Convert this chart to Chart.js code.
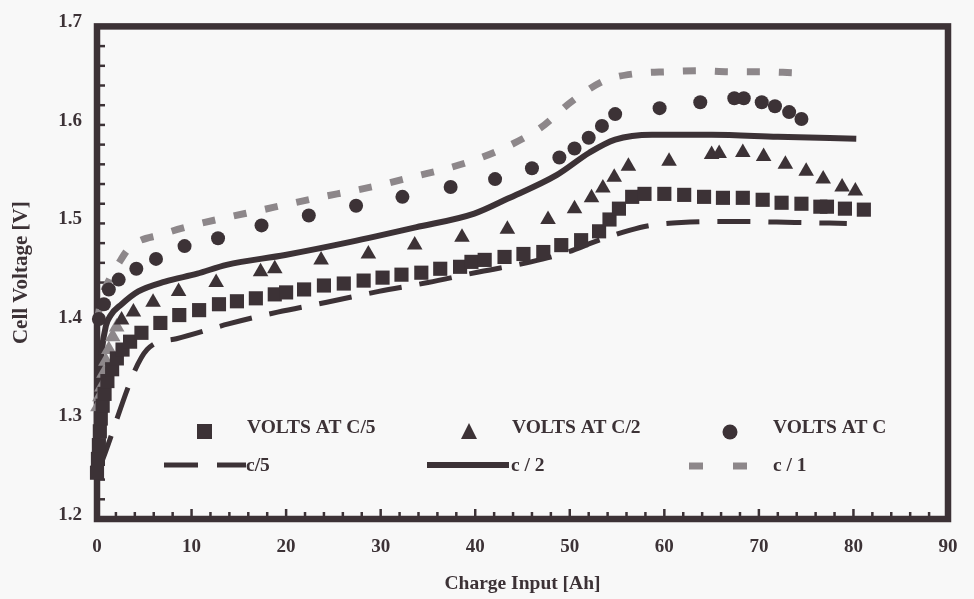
<!DOCTYPE html>
<html>
<head>
<meta charset="utf-8">
<script src="https://cdn.jsdelivr.net/npm/chart.js@4.4.1/dist/chart.umd.min.js"></script>
<style>
html,body{margin:0;padding:0;background:#f8f8f8;}
#wrap{width:974px;height:599px;position:relative;}
</style>
</head>
<body>
<div id="wrap"><canvas id="c"></canvas></div>
<script>
// ---- tick labels ----
const xTickValues = [0, 10, 20, 30, 40, 50, 60, 70, 80, 90];
const yTickValues = [1.2, 1.3, 1.4, 1.5, 1.6, 1.7];

// ---- measured points: VOLTS AT C/5 (squares) ----
const c5PointsAh = [0.0,0.1,0.2,0.3,0.4,0.6,0.8,1.1,1.6,2.1,2.7,3.5,4.7,6.7,8.7,10.8,12.9,14.8,16.8,18.8,20.0,21.9,24.0,26.1,28.2,30.2,32.2,34.3,36.3,38.4,39.6,41.0,43.1,45.1,47.2,49.1,51.2,53.1,54.2,55.2,56.6,57.9,60.0,62.1,64.2,66.2,68.3,70.4,72.4,74.5,76.5,77.2,79.1,81.1];
const c5PointsV  = [1.247,1.261,1.275,1.289,1.302,1.315,1.327,1.340,1.352,1.363,1.372,1.380,1.389,1.399,1.407,1.412,1.418,1.421,1.424,1.428,1.430,1.433,1.437,1.439,1.442,1.445,1.448,1.450,1.454,1.456,1.461,1.463,1.466,1.469,1.471,1.478,1.483,1.492,1.504,1.515,1.527,1.530,1.530,1.529,1.527,1.526,1.526,1.524,1.521,1.520,1.517,1.517,1.515,1.514];

// ---- measured points: VOLTS AT C/2 (triangles) ----
const c2PointsAh = [0.1,0.31,0.52,0.73,0.94,1.25,1.66,2.08,2.6,3.85,5.93,8.63,12.6,17.3,18.8,23.7,28.7,33.6,38.6,43.4,47.7,50.5,52.3,53.5,54.7,56.2,60.5,65.0,65.8,68.3,70.5,72.8,75.0,76.8,78.8,80.2];
const c2PointsV  = [1.314,1.324,1.334,1.348,1.360,1.372,1.385,1.395,1.402,1.410,1.420,1.431,1.440,1.451,1.454,1.463,1.469,1.478,1.486,1.494,1.504,1.515,1.526,1.536,1.547,1.558,1.563,1.570,1.571,1.572,1.568,1.560,1.553,1.545,1.537,1.533];

// ---- measured points: VOLTS AT C (circles) ----
const c1PointsAh = [0.2,0.73,1.25,2.29,4.16,6.24,9.26,12.8,17.4,22.4,27.4,32.3,37.4,42.1,46.0,48.9,50.5,52.0,53.4,54.8,59.5,63.8,67.4,68.4,70.3,71.7,73.2,74.5];
const c1PointsV  = [1.403,1.418,1.433,1.443,1.454,1.464,1.477,1.485,1.498,1.508,1.518,1.527,1.537,1.545,1.556,1.567,1.576,1.587,1.599,1.611,1.617,1.623,1.627,1.627,1.623,1.619,1.613,1.606];

// ---- curves: c/5, c/2, c/1 ----
const c5CurveAh = [0.3,5.3,8.4,13.9,19.1,24.3,29.8,35.0,40.5,45.9,49.5,53.1,56.3,58.5,61.8,67.2,73.8,79.3];
const c5CurveV  = [1.253,1.372,1.383,1.398,1.410,1.420,1.431,1.440,1.451,1.461,1.470,1.483,1.493,1.498,1.501,1.502,1.501,1.500];

const c2CurveAh = [0.2,0.5,0.94,1.46,2.6,4.37,7.2,10.6,13.7,19.9,26.7,33.7,39.9,43.4,48.6,52.1,54.8,58.7,65.0,72.0,80.3];
const c2CurveV  = [1.330,1.370,1.396,1.407,1.418,1.431,1.441,1.449,1.458,1.468,1.481,1.496,1.510,1.525,1.549,1.572,1.585,1.590,1.590,1.588,1.586];

const c1CurveAh = [0.0,0.5,1.3,2.2,3.5,6.9,10.1,13.7,17.1,20.4,23.8,27.0,30.4,33.7,37.1,40.4,43.6,46.9,50.1,53.7,56.9,60.4,63.7,67.0,70.3,73.6];
const c1CurveV  = [1.400,1.425,1.443,1.458,1.476,1.489,1.498,1.506,1.513,1.520,1.527,1.533,1.540,1.548,1.556,1.566,1.579,1.597,1.623,1.645,1.652,1.654,1.655,1.654,1.654,1.653];

const legendLabels = ['VOLTS AT C/5', 'VOLTS AT C/2', 'VOLTS AT C', 'c/5', 'c / 2', 'c / 1'];

const INK = '#3c3236';
const GREY = '#8d878a';
const SERIF = '"Liberation Serif", "Times New Roman", "DejaVu Serif", serif';

function pts(xs, ys) { return xs.map((x, i) => ({ x: x, y: ys[i] })); }

const framePlugin = {
  id: 'frame',
  beforeDatasetsDraw(chart) {
    const { ctx, chartArea: a, scales } = chart;
    const xs = scales.x, ys = scales.y;
    ctx.save();
    ctx.strokeStyle = INK;
    ctx.lineWidth = 6.5;
    ctx.strokeRect(a.left, a.top, a.right - a.left, a.bottom - a.top);
    ctx.lineWidth = 2.5;
    // inward ticks on the bottom axis
    for (let v = 2; v < 90; v += 2) {
      const px = xs.getPixelForValue(v);
      const len = (v % 10 === 0) ? 7 : 4;
      ctx.beginPath();
      ctx.moveTo(px, a.bottom - 3);
      ctx.lineTo(px, a.bottom - 3 - len);
      ctx.stroke();
    }
    // inward ticks on the left axis
    for (let k = 1; k < 25; k++) {
      const py = ys.getPixelForValue(1.2 + k * 0.02);
      ctx.beginPath();
      ctx.moveTo(a.left + 3, py);
      ctx.lineTo(a.left + 8, py);
      ctx.stroke();
    }
    ctx.restore();
  }
};

const legendPlugin = {
  id: 'insideLegend',
  afterDraw(chart) {
    const { ctx } = chart;
    ctx.save();
    ctx.fillStyle = INK;
    ctx.font = 'bold 19.5px ' + SERIF;
    ctx.textBaseline = 'middle';
    ctx.textAlign = 'left';
    // row 1 markers
    ctx.fillRect(197, 424, 15, 15);
    ctx.beginPath();
    ctx.moveTo(469, 423); ctx.lineTo(477, 439); ctx.lineTo(461, 439); ctx.closePath(); ctx.fill();
    ctx.beginPath(); ctx.arc(730, 432, 7.5, 0, Math.PI * 2); ctx.fill();
    ctx.fillText(legendLabels[0], 247, 428);
    ctx.fillText(legendLabels[1], 512, 428);
    ctx.fillText(legendLabels[2], 773, 428);
    // row 2 line samples
    ctx.strokeStyle = INK;
    ctx.lineWidth = 5;
    ctx.beginPath(); ctx.moveTo(164, 465); ctx.lineTo(198, 465); ctx.moveTo(217, 465); ctx.lineTo(246, 465); ctx.stroke();
    ctx.lineWidth = 6;
    ctx.beginPath(); ctx.moveTo(427, 465); ctx.lineTo(509, 465); ctx.stroke();
    ctx.strokeStyle = GREY;
    ctx.lineWidth = 7;
    ctx.beginPath(); ctx.moveTo(689, 466); ctx.lineTo(703, 466); ctx.moveTo(733, 466); ctx.lineTo(747, 466); ctx.stroke();
    ctx.fillText(legendLabels[3], 246, 466);
    ctx.fillText(legendLabels[4], 511, 466);
    ctx.fillText(legendLabels[5], 773, 466);
    ctx.restore();
  }
};

const ctx = document.getElementById('c').getContext('2d');
new Chart(ctx, {
  type: 'line',
  data: {
    datasets: [
      { label: 'VOLTS AT C/5', data: pts(c5PointsAh, c5PointsV), showLine: false,
        pointStyle: 'rect', pointRadius: 10, pointBackgroundColor: INK, pointBorderWidth: 0, clip: false },
      { label: 'VOLTS AT C/2', data: pts(c2PointsAh, c2PointsV), showLine: false,
        pointStyle: 'triangle', pointRadius: 9, pointBorderWidth: 0, clip: false,
        pointBackgroundColor: c => (c.raw && c.raw.x < 2.1) ? GREY : INK },
      { label: 'VOLTS AT C', data: pts(c1PointsAh, c1PointsV), showLine: false,
        pointStyle: 'circle', pointRadius: 7, pointBackgroundColor: INK, pointBorderWidth: 0, clip: false },
      { label: 'c/5', data: pts(c5CurveAh, c5CurveV), borderColor: INK, borderWidth: 5,
        borderDash: [33, 18], borderCapStyle: 'butt', pointRadius: 0, cubicInterpolationMode: 'monotone', fill: false, clip: false },
      { label: 'c / 2', data: pts(c2CurveAh, c2CurveV), borderColor: INK, borderWidth: 6,
        pointRadius: 0, cubicInterpolationMode: 'monotone', fill: false, clip: false },
      { label: 'c / 1', data: pts(c1CurveAh, c1CurveV), borderColor: GREY, borderWidth: 7,
        borderDash: [13, 19], borderCapStyle: 'butt', pointRadius: 0, cubicInterpolationMode: 'monotone', fill: false, clip: false }
    ]
  },
  options: {
    responsive: true,
    maintainAspectRatio: false,
    animation: false,
    events: [],
    layout: { padding: { top: 24, right: 12.5, left: 0, bottom: 0 } },
    plugins: { legend: { display: false }, tooltip: { enabled: false } },
    scales: {
      x: {
        type: 'linear', min: 0, max: 90,
        afterBuildTicks(s) { s.ticks = xTickValues.map(v => ({ value: v })); },
        afterFit(s) { s.height = 80; },
        grid: { display: false, drawTicks: false },
        border: { display: false },
        ticks: { color: INK, padding: 16.5, maxRotation: 0, autoSkip: false,
                 font: { family: SERIF, size: 19, weight: 'bold' },
                 callback: v => String(v) },
        title: { display: true, text: 'Charge Input [Ah]', color: INK,
                 font: { family: SERIF, size: 19.5, weight: 'bold' },
                 padding: { top: 0, bottom: 3.3 } }
      },
      y: {
        type: 'linear', min: 1.2, max: 1.7,
        afterBuildTicks(s) { s.ticks = yTickValues.map(v => ({ value: v })); },
        afterFit(s) { s.width = 97; },
        grid: { display: false, drawTicks: false },
        border: { display: false },
        ticks: { color: INK, padding: 15, labelOffset: -4,
                 font: { family: SERIF, size: 19, weight: 'bold' },
                 callback: v => Number(v).toFixed(1) },
        title: { display: true, text: 'Cell Voltage [V]', color: INK,
                 font: { family: SERIF, size: 21, weight: 'bold' },
                 padding: { top: 9.4, bottom: 0 } }
      }
    }
  },
  plugins: [framePlugin, legendPlugin]
});
</script>
</body>
</html>
